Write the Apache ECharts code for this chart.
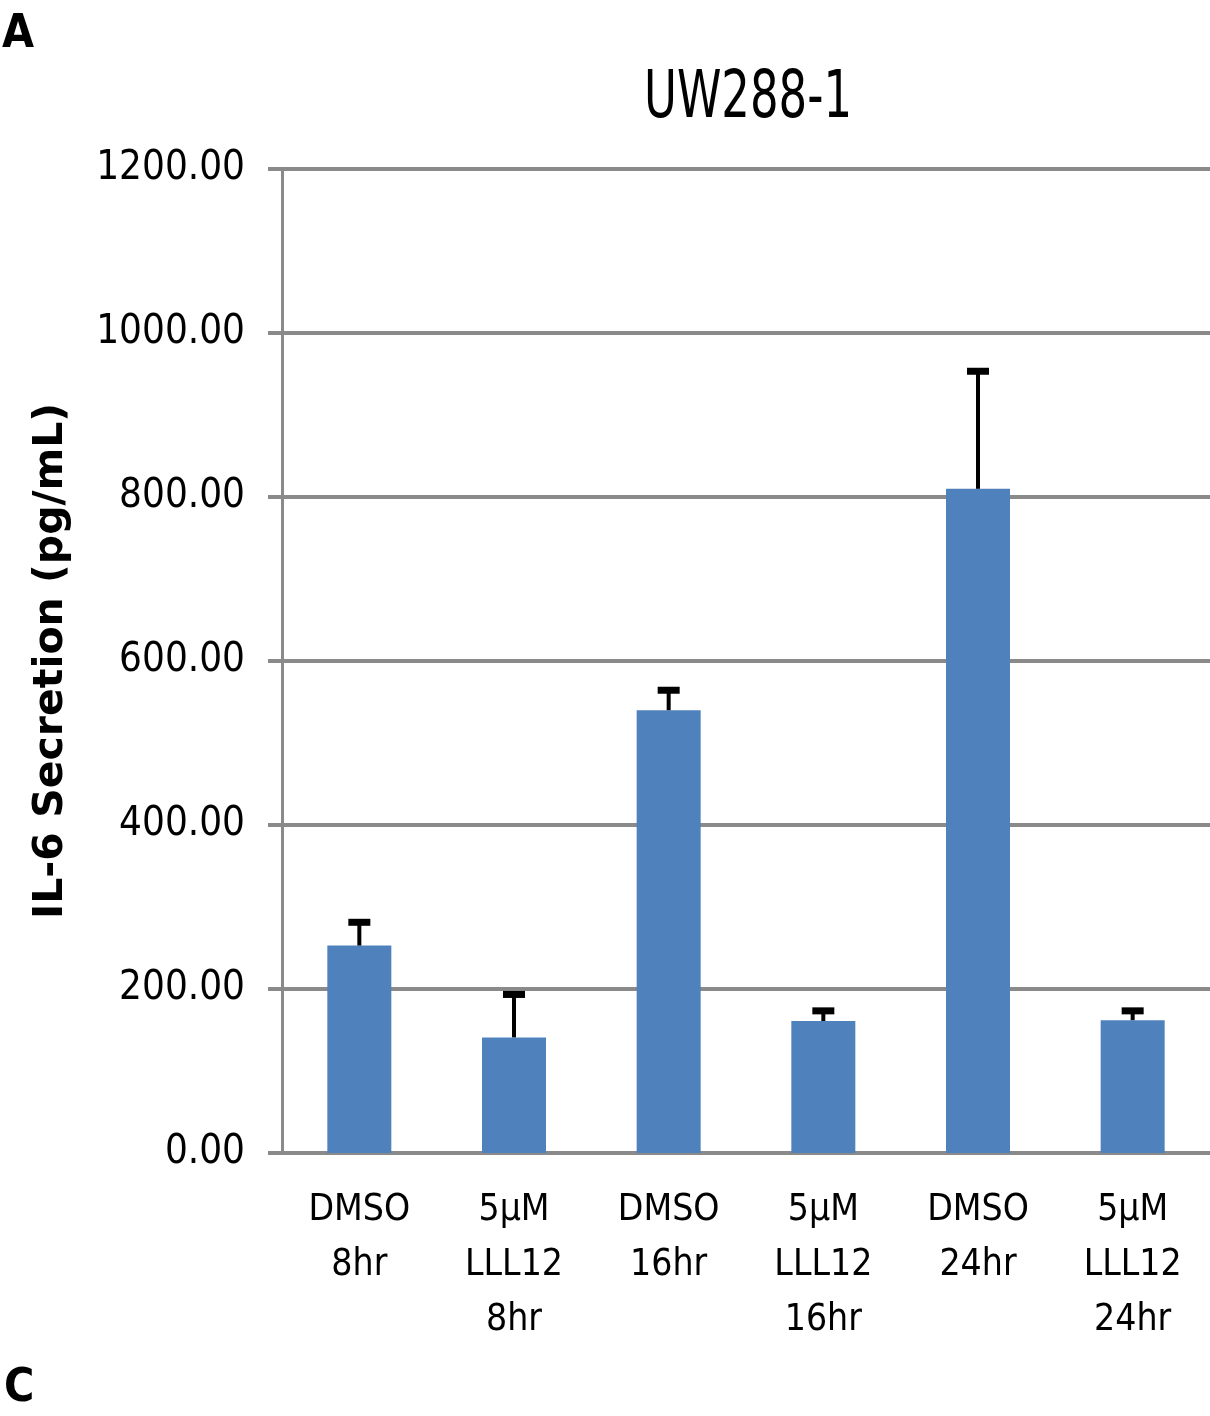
<!DOCTYPE html>
<html>
<head>
<meta charset="utf-8">
<script src="https://cdn.jsdelivr.net/npm/echarts@6/dist/echarts.min.js"></script>
<style>
  html, body { margin: 0; padding: 0; background: #fff; }
  #chart { width: 1210px; height: 1416px; }
</style>
</head>
<body>
<div id="chart"></div>
<script>
// data
var categories = ['DMSO\n8hr', '5µM\nLLL12\n8hr', 'DMSO\n16hr', '5µM\nLLL12\n16hr', 'DMSO\n24hr', '5µM\nLLL12\n24hr'];
var means = [253, 141, 540, 161, 810, 162];
var errors = [32, 56, 28, 16, 147, 15];
var yTicks = [0, 200, 400, 600, 800, 1000, 1200];

var narrow = "'Liberation Sans Narrow', 'DejaVu Sans Condensed', sans-serif";
var myChart = echarts.init(document.getElementById('chart'));

var errData = means.map(function (m, i) { return [i, m, m + errors[i]]; });

var option = {
    backgroundColor: '#fff',
    animation: false,
    graphic: [
        { type: 'text', left: 2, top: 12, style: { text: 'A', fontSize: 46, fontWeight: 'bold', fontFamily: narrow, fill: '#000' } },
        { type: 'text', left: 4, top: 1366, style: { text: 'C', fontSize: 46, fontWeight: 'bold', fontFamily: narrow, fill: '#000' } },
        { type: 'text', x: 748, y: 100, scaleY: 1.3, style: { text: 'UW288-1', fontSize: 50, fontFamily: narrow, fill: '#000', align: 'center', verticalAlign: 'middle' } }
    ],
    grid: { left: 282, right: 0, top: 169, bottom: 263, containLabel: false },
    xAxis: {
        type: 'category',
        data: categories,
        axisLine: { show: true, lineStyle: { color: '#8a8a8a', width: 4 } },
        axisTick: { show: false },
        axisLabel: {
            color: '#000', fontSize: 37, fontFamily: narrow, lineHeight: 55, margin: 30,
            interval: 0
        }
    },
    yAxis: {
        type: 'value',
        min: 0, max: 1200, interval: 200,
        name: 'IL-6 Secretion (pg/mL)',
        nameLocation: 'middle',
        nameRotate: 90,
        nameGap: 210,
        nameTextStyle: { fontSize: 41, fontWeight: 'bold', fontFamily: "'DejaVu Sans', sans-serif", color: '#000' },
        axisLine: { show: true, lineStyle: { color: '#8a8a8a', width: 3 } },
        axisTick: { show: true, length: 14, lineStyle: { color: '#8a8a8a', width: 4 } },
        splitLine: { show: true, lineStyle: { color: '#8a8a8a', width: 4 } },
        axisLabel: {
            color: '#000', fontSize: 40, fontFamily: narrow, margin: 37,
            formatter: function (v) { return v.toFixed(2); },
            customValues: yTicks
        }
    },
    series: [
        {
            type: 'bar',
            data: means,
            barWidth: 64,
            itemStyle: { color: '#4F81BD' },
            z: 2
        },
        {
            type: 'custom',
            data: errData,
            z: 3,
            renderItem: function (params, api) {
                var base = api.coord([api.value(0), api.value(1)]);
                var top = api.coord([api.value(0), api.value(2)]);
                var half = 11;
                return {
                    type: 'group',
                    children: [
                        { type: 'line', shape: { x1: base[0], y1: base[1], x2: top[0], y2: top[1] + 3 }, style: { stroke: '#000', lineWidth: 4 } },
                        { type: 'line', shape: { x1: top[0] - half, y1: top[1] + 3, x2: top[0] + half, y2: top[1] + 3 }, style: { stroke: '#000', lineWidth: 7 } }
                    ]
                };
            }
        }
    ]
};

myChart.setOption(option);
</script>
</body>
</html>
